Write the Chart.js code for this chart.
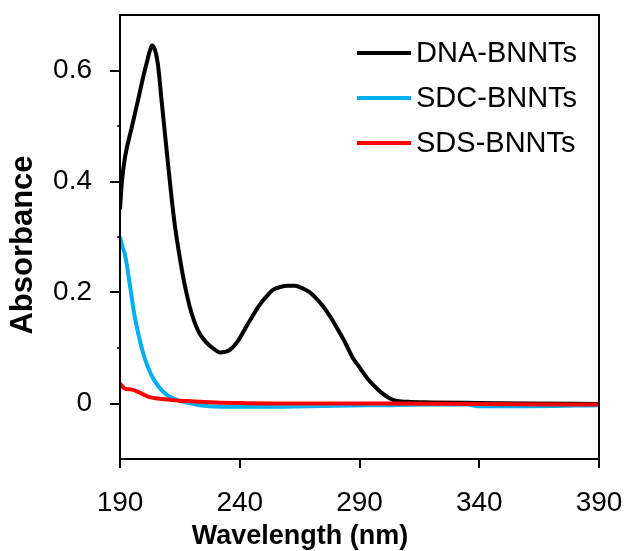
<!DOCTYPE html>
<html>
<head>
<meta charset="utf-8">
<script src="https://cdn.jsdelivr.net/npm/chart.js@4"></script>
<style>
  html, body { margin: 0; padding: 0; background: #ffffff; }
  #wrap { width: 627px; height: 551px; position: relative; }
</style>
</head>
<body>
<div id="wrap"><canvas id="uvChart"></canvas></div>
<script>
// ---- data ----
const seriesNames = ['DNA-BNNTs', 'SDC-BNNTs', 'SDS-BNNTs'];
const seriesColors = ['#000000', '#00b0f0', '#ff0000'];

const dnaWl  = [190, 190.8, 192.1, 195, 197.6, 200, 201.5, 202.5, 203.3, 204.6, 205.8, 207.5, 209.5, 211.5, 213, 215, 217, 219, 221, 223, 226, 229, 231.7, 234, 236, 239, 242, 245, 248, 251, 254, 257, 260, 263, 266, 269, 272, 275, 278, 281, 284, 287, 290, 293, 296, 299, 302, 305, 310, 320, 340, 360, 390];
const dnaAbs = [0.35, 0.4, 0.444, 0.499, 0.548, 0.594, 0.62, 0.636, 0.645, 0.637, 0.612, 0.54, 0.455, 0.372, 0.318, 0.262, 0.214, 0.176, 0.148, 0.128, 0.11, 0.099, 0.092, 0.093, 0.097, 0.111, 0.133, 0.155, 0.176, 0.192, 0.205, 0.21, 0.212, 0.212, 0.208, 0.201, 0.189, 0.174, 0.155, 0.133, 0.11, 0.084, 0.065, 0.047, 0.032, 0.02, 0.011, 0.005, 0.003, 0.002, 0.001, 0.0, -0.001];

const sdcWl  = [190, 191.4, 192, 194, 196, 198, 200, 203, 206, 210, 215, 220, 225, 235, 250, 280, 300, 320, 335, 340, 360, 390];
const sdcAbs = [0.3, 0.277, 0.27, 0.217, 0.16, 0.119, 0.086, 0.052, 0.031, 0.014, 0.005, 0.0, -0.004, -0.006, -0.006, -0.004, -0.003, -0.002, -0.002, -0.005, -0.005, -0.003];

const sdsWl  = [190, 192, 195, 198, 202, 206, 210, 215, 220, 230, 240, 260, 300, 340, 390];
const sdsAbs = [0.036, 0.027, 0.025, 0.02, 0.012, 0.009, 0.007, 0.005, 0.004, 0.002, 0.001, 0.0, 0.0, -0.001, -0.002];

const xTicks = [190, 240, 290, 340, 390];
const yTicks = [0, 0.2, 0.4, 0.6];
const yMinorTicks = [0.1, 0.3, 0.5];

const xTitle = 'Wavelength (nm)';
const yTitle = 'Absorbance';

function toPoints(xs, ys) {
    return xs.map((x, i) => ({ x: x, y: ys[i] }));
}

// frame, minor ticks, legend and axis titles
const decorPlugin = {
    id: 'decor',
    afterDraw(chart) {
        const ctx = chart.ctx;
        const a = chart.chartArea;
        const yScale = chart.scales.y;
        ctx.save();
        ctx.strokeStyle = '#000';
        ctx.lineWidth = 2;
        ctx.strokeRect(a.left, a.top, a.right - a.left, a.bottom - a.top);

        // tiny minor ticks on the left axis
        ctx.lineWidth = 1.5;
        yMinorTicks.forEach(v => {
            const py = Math.round(yScale.getPixelForValue(v));
            ctx.beginPath();
            ctx.moveTo(a.left - 3, py);
            ctx.lineTo(a.left, py);
            ctx.stroke();
        });

        // legend (top right, inside the plot), in series order
        ctx.font = '29px "Liberation Sans", Arial, sans-serif';
        ctx.textBaseline = 'middle';
        ctx.textAlign = 'left';
        seriesNames.forEach((name, i) => {
            const y = 53 + i * 45;
            ctx.strokeStyle = seriesColors[i];
            ctx.lineWidth = 4;
            ctx.beginPath();
            ctx.moveTo(357, y);
            ctx.lineTo(411, y);
            ctx.stroke();
            ctx.fillStyle = '#000';
            ctx.fillText(name, 416, y + 1);
        });

        // axis titles
        ctx.fillStyle = '#000';
        ctx.font = 'bold 27px "Liberation Sans", Arial, sans-serif';
        ctx.textAlign = 'center';
        ctx.fillText(xTitle, 300, 537);
        ctx.translate(23, 245);
        ctx.rotate(-Math.PI / 2);
        ctx.font = 'bold 31px "Liberation Sans", Arial, sans-serif';
        ctx.fillText(yTitle, 0, 0);
        ctx.restore();
    }
};

const ctx = document.getElementById('uvChart').getContext('2d');
new Chart(ctx, {
    type: 'line',
    data: {
        // drawn last = first in list, so SDS sits on top like the original
        datasets: [
            { label: seriesNames[2], data: toPoints(sdsWl, sdsAbs), borderColor: seriesColors[2] },
            { label: seriesNames[1], data: toPoints(sdcWl, sdcAbs), borderColor: seriesColors[1] },
            { label: seriesNames[0], data: toPoints(dnaWl, dnaAbs), borderColor: seriesColors[0] }
        ]
    },
    options: {
        responsive: true,
        maintainAspectRatio: false,
        animation: false,
        layout: { padding: { top: 15, right: 28, left: 0, bottom: 0 } },
        elements: {
            line: { borderWidth: 4, cubicInterpolationMode: 'monotone', fill: false },
            point: { radius: 0 }
        },
        plugins: {
            legend: { display: false },
            tooltip: { enabled: false }
        },
        scales: {
            x: {
                type: 'linear',
                min: 190,
                max: 390,
                afterBuildTicks: (scale) => { scale.ticks = xTicks.map(v => ({ value: v })); },
                afterFit: (scale) => {
                    scale.height = 92;
                    scale.paddingLeft = 0;
                    scale.paddingRight = 0;
                },
                grid: { display: true, drawOnChartArea: false, drawTicks: true, tickLength: 9, color: '#000', lineWidth: 2 },
                border: { display: true, color: '#000', width: 2 },
                ticks: {
                    color: '#000',
                    padding: 18,
                    maxRotation: 0,
                    font: { family: '"Liberation Sans", Arial, sans-serif', size: 28 }
                }
            },
            y: {
                type: 'linear',
                min: -0.1,
                max: 0.7,
                afterBuildTicks: (scale) => { scale.ticks = yTicks.map(v => ({ value: v })); },
                afterFit: (scale) => {
                    scale.width = 120;
                    scale.paddingTop = 0;
                    scale.paddingBottom = 0;
                },
                grid: { display: true, drawOnChartArea: false, drawTicks: true, tickLength: 10, color: '#000', lineWidth: 2 },
                border: { display: true, color: '#000', width: 2 },
                ticks: {
                    color: '#000',
                    padding: 18,
                    font: { family: '"Liberation Sans", Arial, sans-serif', size: 28 },
                    callback: (v) => v === 0 ? '0' : v.toFixed(1)
                }
            }
        }
    },
    plugins: [decorPlugin]
});
</script>
</body>
</html>
